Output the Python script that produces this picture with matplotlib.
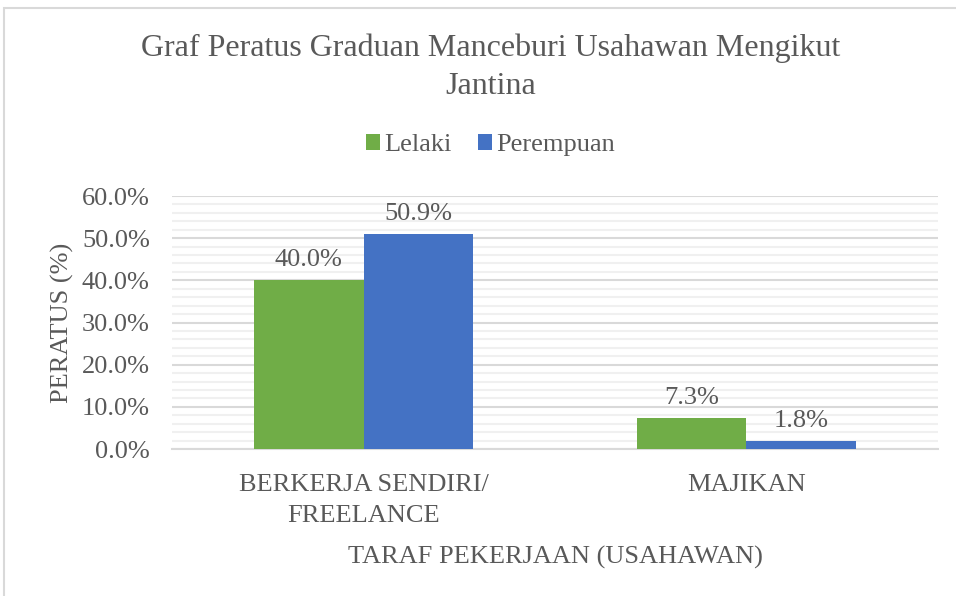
import matplotlib.pyplot as plt
import numpy as np
from matplotlib.patches import Rectangle
from matplotlib.ticker import MultipleLocator, PercentFormatter

# values
CATEGORIES = ["BERKERJA SENDIRI/\nFREELANCE", "MAJIKAN"]
SERIES = ["Lelaki", "Perempuan"]
LELAKI = [40.0, 7.3]
PEREMPUAN = [50.9, 1.8]

COLORS = {"Lelaki": "#70AD47", "Perempuan": "#4472C4"}
TEXT = "#595959"
FONT = ["Liberation Serif", "DejaVu Serif"]

plt.rcParams["font.family"] = FONT
plt.rcParams["text.color"] = TEXT

fig = plt.figure(figsize=(9.56, 5.96), dpi=100)
ax = fig.add_axes([0.18, 0.2466, 0.801, 0.4245])

# chart border (only top and left edges fall inside the crop)
fig.add_artist(Rectangle((4 / 956, -0.1), 1.2, 1.1 - 8 / 596,
                         transform=fig.transFigure, fill=False,
                         edgecolor="#d9d9d9", linewidth=1.5))

x = np.arange(len(CATEGORIES))
width = 0.286
for offset, name, vals in [(-width / 2, "Lelaki", LELAKI), (width / 2, "Perempuan", PEREMPUAN)]:
    bars = ax.bar(x + offset, vals, width, color=COLORS[name], label=name, zorder=3)
    for b, v in zip(bars, vals):
        ax.annotate(f"{v:.1f}%", (b.get_x() + b.get_width() / 2, v),
                    xytext=(0, 7), textcoords="offset points",
                    ha="center", va="bottom", fontsize=19, color=TEXT)

ax.set_xlim(-0.5, 1.5)
ax.set_ylim(0, 60)
ax.yaxis.set_major_locator(MultipleLocator(10))
ax.yaxis.set_minor_locator(MultipleLocator(2))
ax.yaxis.set_major_formatter(PercentFormatter(decimals=1))
ax.grid(axis="y", which="major", color="#d9d9d9", linewidth=1.5, zorder=0)
ax.grid(axis="y", which="minor", color="#f0f0f0", linewidth=1.5, zorder=0)
ax.set_axisbelow(True)

ax.set_xticks(x)
ax.set_xticklabels(CATEGORIES, fontsize=19, color=TEXT, linespacing=1.5)
ax.tick_params(axis="y", labelsize=19, labelcolor=TEXT, length=0, pad=16)
ax.tick_params(axis="y", which="minor", length=0)
ax.tick_params(axis="x", length=0, pad=18)

for side in ["top", "right", "left"]:
    ax.spines[side].set_visible(False)
ax.spines["bottom"].set_color("#d9d9d9")
ax.spines["bottom"].set_linewidth(1.5)

ax.set_xlabel("TARAF PEKERJAAN (USAHAWAN)", fontsize=19, color=TEXT, labelpad=14)
ax.set_ylabel("PERATUS (%)", fontsize=19, color=TEXT, labelpad=6)

fig.text(0.513, 1 - 67 / 596, "Graf Peratus Graduan Manceburi Usahawan Mengikut\nJantina",
         ha="center", va="center", fontsize=23, color=TEXT, linespacing=1.4)

ax.legend(loc="center", bbox_to_anchor=(0.513, 1 - 145 / 596), bbox_transform=fig.transFigure,
          ncol=2, frameon=False, fontsize=19, handlelength=0.55, handleheight=0.55,
          handletextpad=0.15, columnspacing=1.0, labelcolor=TEXT)

fig.savefig("out.png", dpi=100)
